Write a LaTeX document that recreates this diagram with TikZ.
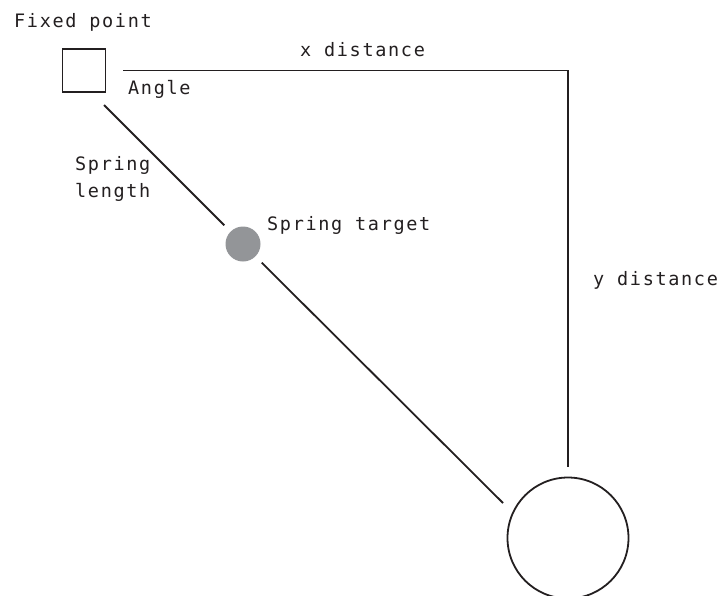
\documentclass[tikz,border=0pt]{standalone}
\usepackage{fontspec}
\setmonofont{DejaVu Sans Mono}[LetterSpace=9]
\usetikzlibrary{positioning}
\definecolor{ink}{HTML}{231F20}
\definecolor{bobgrey}{HTML}{939598}

\begin{document}
\begin{tikzpicture}[
    x=1pt, y=-1pt,
    fixedbox/.style={rectangle, draw=ink, line width=1.8pt, minimum size=43pt, inner sep=0pt},
    target/.style={circle, fill=bobgrey, minimum size=35pt, inner sep=0pt, outer sep=9pt},
    ball/.style={circle, draw=ink, line width=1.8pt, minimum size=121pt, inner sep=0pt},
    wire/.style={ink, line width=1.8pt},
    lbl/.style={font=\ttfamily\fontsize{18.5}{27}\selectfont, text=ink, inner sep=0pt,
                anchor=base west, align=left}
  ]
    \useasboundingbox (0,0) rectangle (720,595);

    \node[fixedbox] (fixed) at (84,70.5) {};
    \node[target] (target) at (243,244) {};
    \node[ball] (ball) at (568,538) {};
    \coordinate (springtop) at (104,105);
    \coordinate (springend) at (503,503);

    \node[lbl] (fixedlbl) at (14,27) {Fixed point};
    \node[lbl] (anglelbl) at (128,94) {Angle};
    \node[lbl] (lenlbl) at (75,197) {Spring\\length};
    \node[lbl] (targetlbl) at (267,230) {Spring target};
    \node[lbl] (xlbl) at (300,56.5) {x distance};
    \node[lbl] (ylbl) at (593,285) {y distance};

    \draw[wire] (springtop) -- (target);
    \draw[wire] (target) -- (springend);
    \draw[wire, shorten <=17pt, shorten >=10pt] (fixed.east) -| (ball);
  \end{tikzpicture}
\end{document}
